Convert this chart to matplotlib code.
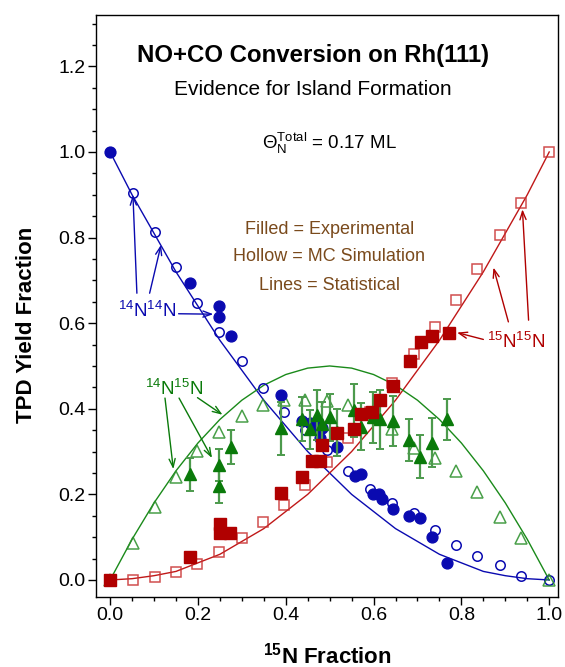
import matplotlib
matplotlib.use('Agg')
import matplotlib.pyplot as plt
from matplotlib.ticker import MultipleLocator

plt.rcParams['font.family'] = ['Liberation Sans', 'DejaVu Sans']
plt.rcParams['mathtext.fontset'] = 'custom'
plt.rcParams['mathtext.rm'] = 'Liberation Sans'
plt.rcParams['mathtext.it'] = 'Liberation Sans'
plt.rcParams['mathtext.bf'] = 'Liberation Sans:bold'

BLUE = '#0a0ab0'
RED = '#b00000'
GREEN = '#0a7a0a'
BROWN = '#7a4a1c'

# statistical curves, sampled every 0.05 in 15N fraction
stat_x = [0.0, 0.05, 0.1, 0.15, 0.2, 0.25, 0.3, 0.35, 0.4, 0.45, 0.5,
          0.55, 0.6, 0.65, 0.7, 0.75, 0.8, 0.85, 0.9, 0.95, 1.0]
stat_1414 = [1.0, 0.90, 0.81, 0.72, 0.64, 0.56, 0.49, 0.42, 0.36, 0.30, 0.25,
             0.20, 0.16, 0.12, 0.09, 0.06, 0.04, 0.02, 0.01, 0.003, 0.0]
stat_1515 = [0.0, 0.003, 0.01, 0.02, 0.04, 0.06, 0.09, 0.12, 0.16, 0.20, 0.25,
             0.30, 0.36, 0.42, 0.49, 0.56, 0.64, 0.72, 0.81, 0.90, 1.0]
stat_1415 = [0.0, 0.095, 0.18, 0.255, 0.32, 0.375, 0.42, 0.455, 0.48, 0.495, 0.5,
             0.495, 0.48, 0.455, 0.42, 0.375, 0.32, 0.255, 0.18, 0.095, 0.0]

# Monte Carlo simulation (hollow symbols)
mc_x = [0.0, 0.052, 0.102, 0.150, 0.198, 0.248, 0.300, 0.348, 0.396, 0.444, 0.494,
        0.541, 0.592, 0.642, 0.691, 0.739, 0.787, 0.836, 0.888, 0.936, 1.0]
mc_1414 = [1.0, 0.905, 0.814, 0.731, 0.648, 0.580, 0.512, 0.449, 0.393, 0.350, 0.304,
           0.255, 0.213, 0.181, 0.156, 0.117, 0.082, 0.057, 0.035, 0.010, 0.0]
mc_1515 = [0.0, 0.0, 0.008, 0.019, 0.037, 0.066, 0.097, 0.135, 0.175, 0.222, 0.276,
           0.331, 0.393, 0.460, 0.528, 0.590, 0.654, 0.727, 0.806, 0.880, 1.0]
mc_1415 = [0.0, 0.086, 0.171, 0.241, 0.301, 0.345, 0.382, 0.409, 0.421, 0.421, 0.417,
           0.409, 0.388, 0.352, 0.308, 0.286, 0.255, 0.206, 0.148, 0.099, 0.0]

# experimental TPD yields (filled symbols)
exp14_x = [0.0, 0.182, 0.249, 0.249, 0.275, 0.390, 0.437, 0.456, 0.471, 0.482, 0.478,
           0.516, 0.558, 0.571, 0.598, 0.612, 0.620, 0.645, 0.681, 0.705, 0.733, 0.768]
exp_1414 = [1.0, 0.693, 0.641, 0.614, 0.571, 0.432, 0.372, 0.366, 0.357, 0.354, 0.331,
            0.310, 0.243, 0.247, 0.201, 0.201, 0.189, 0.166, 0.150, 0.144, 0.100, 0.039]

exp15_x = [0.0, 0.182, 0.251, 0.251, 0.273, 0.390, 0.438, 0.459, 0.478, 0.482,
           0.516, 0.556, 0.572, 0.596, 0.615, 0.645, 0.682, 0.707, 0.734, 0.771]
exp_1515 = [0.0, 0.053, 0.131, 0.109, 0.109, 0.203, 0.240, 0.278, 0.278, 0.315,
            0.343, 0.352, 0.388, 0.393, 0.421, 0.454, 0.512, 0.555, 0.569, 0.576]

exp1415_x = [0.182, 0.249, 0.249, 0.276, 0.390, 0.437, 0.456, 0.471, 0.482, 0.501,
             0.516, 0.556, 0.571, 0.598, 0.615, 0.645, 0.681, 0.705, 0.733, 0.768]
exp_1415 = [0.247, 0.269, 0.220, 0.310, 0.354, 0.376, 0.352, 0.386, 0.365, 0.380,
            0.345, 0.397, 0.358, 0.380, 0.375, 0.372, 0.327, 0.288, 0.321, 0.375]
err_1415 = [0.038, 0.038, 0.040, 0.040, 0.062, 0.052, 0.046, 0.058, 0.050, 0.055,
            0.055, 0.062, 0.055, 0.060, 0.068, 0.058, 0.048, 0.050, 0.058, 0.047]

fig = plt.figure(figsize=(5.65, 6.67), dpi=100)
ax = fig.add_axes([0.170, 0.105, 0.818, 0.8725])

# statistical lines
ax.plot(stat_x, stat_1414, color=BLUE, lw=1.0, zorder=2)
ax.plot(stat_x, stat_1515, color='#c01818', lw=1.0, zorder=2)
ax.plot(stat_x, stat_1415, color='#1a8a1a', lw=1.0, zorder=2)

# MC simulation
ax.plot(mc_x, mc_1414, 'o', ms=6.8, mfc='none', mec=BLUE, mew=1.1, zorder=3)
ax.plot(mc_x, mc_1515, 's', ms=7.2, mfc='none', mec='#c83030', mew=1.1, alpha=0.85, zorder=3)
ax.plot(mc_x, mc_1415, '^', ms=8.0, mfc='none', mec='#2a8f2a', mew=1.1, alpha=0.85, zorder=3)

# experiment
ax.plot(exp14_x, exp_1414, 'o', ms=7.8, color=BLUE, mec=BLUE, zorder=4)
ax.errorbar(exp1415_x, exp_1415, yerr=err_1415, fmt='^', ms=8.0, color=GREEN,
            ecolor='#4c9a4c', elinewidth=1.6, capsize=3, capthick=1.4, zorder=5)
ax.plot(exp15_x, exp_1515, 's', ms=8.2, color=RED, mec=RED, zorder=6)

ax.set_xlim(-0.032, 1.0205)
ax.set_ylim(-0.0397, 1.32)
ax.xaxis.set_major_locator(MultipleLocator(0.2))
ax.xaxis.set_minor_locator(MultipleLocator(0.05))
ax.yaxis.set_major_locator(MultipleLocator(0.2))
ax.yaxis.set_minor_locator(MultipleLocator(0.05))
ax.set_yticks([0.0, 0.2, 0.4, 0.6, 0.8, 1.0, 1.2])
ax.tick_params(which='major', direction='out', length=5.5, width=1, labelsize=14, pad=2)
ax.tick_params(which='minor', direction='out', length=3, width=1)
ax.xaxis.set_major_formatter(plt.FormatStrFormatter('%.1f'))
ax.yaxis.set_major_formatter(plt.FormatStrFormatter('%.1f'))
for s in ax.spines.values():
    s.set_linewidth(1.0)

ax.set_xlabel(r'$^{\mathbf{15}}$N Fraction', fontsize=16, fontweight='bold')
ax.set_ylabel('TPD Yield Fraction', fontsize=16, fontweight='bold')
ax.xaxis.set_label_coords(0.5, -0.078)
ax.yaxis.set_label_coords(-0.127, 0.467)

# titles and notes
ax.text(0.462, 1.225, 'NO+CO Conversion on Rh(111)', fontsize=17.3, fontweight='bold',
        ha='center', va='center')
ax.text(0.462, 1.145, 'Evidence for Island Formation', fontsize=15, ha='center', va='center')
ax.text(0.499, 1.021, r'$\Theta_N^{Total}$ = 0.17 ML', fontsize=13.5, ha='center', va='center')
ax.text(0.499, 0.818, 'Filled = Experimental', fontsize=13, color=BROWN, ha='center', va='center')
ax.text(0.499, 0.755, 'Hollow = MC Simulation', fontsize=13, color=BROWN, ha='center', va='center')
ax.text(0.499, 0.689, 'Lines = Statistical', fontsize=13, color=BROWN, ha='center', va='center')

arrow = dict(arrowstyle='->,head_length=0.6,head_width=0.22', lw=1.0, shrinkA=0, shrinkB=0)

# species labels with pointer arrows
ax.text(0.085, 0.628, r'$^{14}$N$^{14}$N', fontsize=13.5, color=BLUE, ha='center', va='center')
for tail, head in [((0.061, 0.67), (0.052, 0.90)), ((0.09, 0.67), (0.116, 0.783)),
                   ((0.156, 0.622), (0.235, 0.621))]:
    ax.annotate('', xy=head, xytext=tail, arrowprops=dict(arrow, color=BLUE))

ax.text(0.924, 0.555, r'$^{15}$N$^{15}$N', fontsize=13.5, color=RED, ha='center', va='center')
for tail, head in [((0.907, 0.603), (0.873, 0.73)), ((0.953, 0.607), (0.939, 0.866)),
                   ((0.85, 0.562), (0.79, 0.578))]:
    ax.annotate('', xy=head, xytext=tail, arrowprops=dict(arrow, color=RED))

ax.text(0.145, 0.446, r'$^{14}$N$^{15}$N', fontsize=13.5, color=GREEN, ha='center', va='center')
for tail, head in [((0.125, 0.425), (0.144, 0.259)), ((0.157, 0.425), (0.232, 0.285)),
                   ((0.199, 0.426), (0.256, 0.386))]:
    ax.annotate('', xy=head, xytext=tail, arrowprops=dict(arrow, color=GREEN))

fig.savefig('out.png', dpi=100)
